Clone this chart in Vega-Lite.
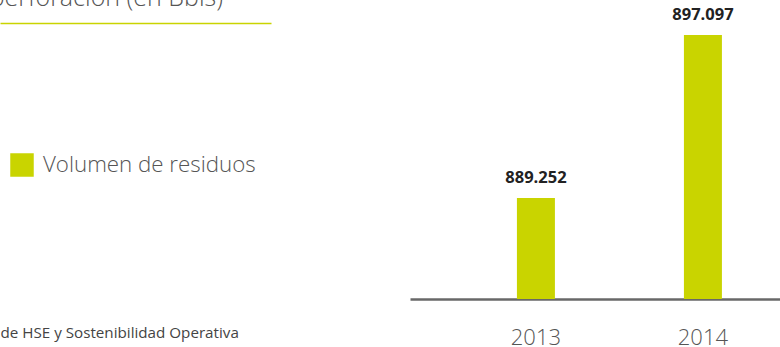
{
  "$schema": "https://vega.github.io/schema/vega-lite/v6.json",
  "width": 780,
  "height": 299,
  "autosize": {"type": "none"},
  "padding": {"left": 0, "top": 0, "right": 0, "bottom": 48},
  "background": "white",
  "data": {"values": [
    {"year": "2013", "value": 889252, "label": "889.252", "serie": "Volumen de residuos"},
    {"year": "2014", "value": 897097, "label": "897.097", "serie": "Volumen de residuos"}
  ]},
  "title": {
    "text": "perforación (en Bbls)",
    "anchor": "start",
    "frame": "group",
    "align": "right",
    "dx": 223,
    "dy": 31,
    "offset": 0,
    "baseline": "alphabetic",
    "font": "Open Sans",
    "fontSize": 25,
    "fontWeight": 300,
    "color": "#555555"
  },
  "layer": [
    {
      "layer": [
        {
          "mark": {"type": "bar"},
          "encoding": {
            "x": {
              "field": "year",
              "type": "nominal",
              "scale": {"range": [410, 780], "paddingInner": 0.7725, "paddingOuter": 0.494, "align": 0.648},
              "axis": {
                "orient": "bottom",
                "title": "de HSE y Sostenibilidad Operativa",
                "titleX": 0,
                "titleY": 38,
                "titleAnchor": "start",
                "titleAlign": "left",
                "titleBaseline": "alphabetic",
                "titleFont": "Open Sans",
                "titleFontSize": 15.2,
                "titleFontWeight": "normal",
                "titleColor": "#444444",
                "domainColor": "#686868",
                "domainWidth": 2.7,
                "ticks": false,
                "grid": false,
                "labelAngle": 0,
                "labelPadding": 28,
                "labelFont": "Open Sans",
                "labelFontSize": 22,
                "labelFontWeight": 300,
                "labelColor": "#555555"
              }
            },
            "y": {
              "field": "value",
              "type": "quantitative",
              "scale": {"domain": [884390, 898780], "zero": false, "nice": false},
              "axis": null
            },
            "y2": {"datum": 884390},
            "color": {
              "field": "serie",
              "type": "nominal",
              "scale": {"range": ["#c9d400"]},
              "legend": {
                "orient": "none",
                "legendX": 10,
                "legendY": 153,
                "title": null,
                "symbolType": "square",
                "symbolSize": 552,
                "symbolStrokeWidth": 0,
                "labelFont": "Open Sans",
                "labelFontSize": 22.3,
                "labelFontWeight": 300,
                "labelColor": "#555555",
                "labelOffset": 9,
                "labelLimit": 400,
                "padding": 0
              }
            }
          }
        },
        {
          "mark": {
            "type": "text",
            "dy": -15,
            "baseline": "alphabetic",
            "font": "Open Sans",
            "fontWeight": "bold",
            "fontSize": 16.5,
            "color": "#222222"
          },
          "encoding": {
            "x": {"field": "year", "type": "nominal"},
            "y": {"field": "value", "type": "quantitative"},
            "text": {"field": "label"}
          }
        }
      ]
    },
    {
      "mark": {"type": "tick", "opacity": 0},
      "encoding": {
        "x": {
          "field": "value",
          "type": "quantitative",
          "scale": {"range": [0, 271]},
          "axis": {
            "orient": "top",
            "offset": -23,
            "domainColor": "#c9d400",
            "domainWidth": 1.5,
            "labels": false,
            "ticks": false,
            "grid": false,
            "title": null
          }
        }
      }
    }
  ],
  "resolve": {"scale": {"x": "independent"}, "axis": {"x": "independent"}},
  "config": {"view": {"stroke": null}}
}
